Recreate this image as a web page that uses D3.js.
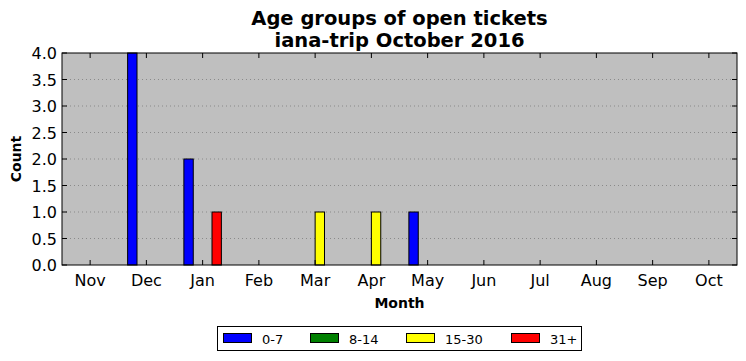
<!DOCTYPE html>
<html>
<head>
<meta charset="utf-8">
<script src="https://cdn.jsdelivr.net/npm/d3@7"></script>
<style>
  body { margin: 0; background: #fff; }
  svg { display: block; font-family: "DejaVu Sans", sans-serif; }
</style>
</head>
<body>
<svg id="chart" width="746" height="361"></svg>
<script>
// month categories
const months = ['Nov', 'Dec', 'Jan', 'Feb', 'Mar', 'Apr', 'May', 'Jun', 'Jul', 'Aug', 'Sep', 'Oct'];
// age groups and colours
const groups = ['0-7', '8-14', '15-30', '31+'];
const colors = ['#0000ff', '#008000', '#ffff00', '#ff0000'];
// counts per group
const age0to7 = [0, 4, 2, 0, 0, 0, 1, 0, 0, 0, 0, 0];
const age8to14 = [0, 0, 0, 0, 0, 0, 0, 0, 0, 0, 0, 0];
const age15to30 = [0, 0, 0, 0, 1, 1, 0, 0, 0, 0, 0, 0];
const age31plus = [0, 0, 1, 0, 0, 0, 0, 0, 0, 0, 0, 0];
const series = [age0to7, age8to14, age15to30, age31plus];
const yTicks = [0, 0.5, 1, 1.5, 2, 2.5, 3, 3.5, 4];

const svg = d3.select('#chart');
const m = { left: 62, right: 737, top: 53, bottom: 265 };
const W = m.right - m.left, H = m.bottom - m.top;

const x = d3.scaleBand().domain(months).range([m.left, m.right]);
const y = d3.scaleLinear().domain([0, 4]).range([m.bottom, m.top]);
const bw = x.step() / 6;

// background
svg.append('rect').attr('x', m.left).attr('y', m.top).attr('width', W).attr('height', H)
  .attr('fill', '#bfbfbf');

// grid
svg.append('g').selectAll('line').data(yTicks.slice(1, -1)).join('line')
  .attr('x1', m.left).attr('x2', m.right)
  .attr('y1', d => y(d)).attr('y2', d => y(d))
  .attr('stroke', '#666').attr('stroke-width', 0.6).attr('stroke-dasharray', '1,3');

// bars
series.forEach((vals, gi) => {
  svg.append('g').selectAll('rect').data(vals).join('rect')
    .attr('x', (d, i) => x(months[i]) + x.step() / 2 + (gi - 2) * bw)
    .attr('y', d => y(d))
    .attr('width', bw)
    .attr('height', d => y(0) - y(d))
    .attr('fill', colors[gi])
    .attr('stroke', '#000').attr('stroke-width', 1);
});

// frame
svg.append('rect').attr('x', m.left).attr('y', m.top).attr('width', W).attr('height', H)
  .attr('fill', 'none').attr('stroke', '#000').attr('stroke-width', 1);

// ticks (inward, all sides)
const tl = 5;
const xt = svg.append('g');
months.forEach(mo => {
  const cx = x(mo) + x.step() / 2;
  xt.append('line').attr('x1', cx).attr('x2', cx).attr('y1', m.bottom).attr('y2', m.bottom - tl).attr('stroke', '#000');
  xt.append('line').attr('x1', cx).attr('x2', cx).attr('y1', m.top).attr('y2', m.top + tl).attr('stroke', '#000');
  xt.append('text').attr('x', cx).attr('y', m.bottom + 21).attr('text-anchor', 'middle')
    .attr('font-size', 16).text(mo);
});
yTicks.forEach(t => {
  const cy = y(t);
  xt.append('line').attr('x1', m.left).attr('x2', m.left + tl).attr('y1', cy).attr('y2', cy).attr('stroke', '#000');
  xt.append('line').attr('x1', m.right).attr('x2', m.right - tl).attr('y1', cy).attr('y2', cy).attr('stroke', '#000');
  xt.append('text').attr('x', m.left - 5).attr('y', cy + 6).attr('text-anchor', 'end')
    .attr('font-size', 16).text(d3.format('.1f')(t));
});

// titles
const cxm = (m.left + m.right) / 2;
svg.append('text').attr('x', cxm).attr('y', 25).attr('text-anchor', 'middle')
  .attr('font-size', 19.5).attr('font-weight', 'bold').text('Age groups of open tickets');
svg.append('text').attr('x', cxm).attr('y', 47).attr('text-anchor', 'middle')
  .attr('font-size', 19.5).attr('font-weight', 'bold').text('iana-trip October 2016');
svg.append('text').attr('x', cxm).attr('y', 308).attr('text-anchor', 'middle')
  .attr('font-size', 14).attr('font-weight', 'bold').text('Month');
svg.append('text').attr('transform', `translate(21,${(m.top + m.bottom) / 2}) rotate(-90)`)
  .attr('text-anchor', 'middle').attr('font-size', 14).attr('font-weight', 'bold').text('Count');

// legend
const lg = svg.append('g');
lg.append('rect').attr('x', 217.5).attr('y', 326.5).attr('width', 364).attr('height', 24)
  .attr('fill', '#fff').attr('stroke', '#000');
const lx = [223, 310, 406, 511];
groups.forEach((g, i) => {
  lg.append('rect').attr('x', lx[i] + 0.5).attr('y', 333.5).attr('width', 28).attr('height', 9)
    .attr('fill', colors[i]).attr('stroke', '#000');
  lg.append('text').attr('x', lx[i] + 39).attr('y', 343.5).attr('font-size', 13).text(g);
});
</script>
</body>
</html>
